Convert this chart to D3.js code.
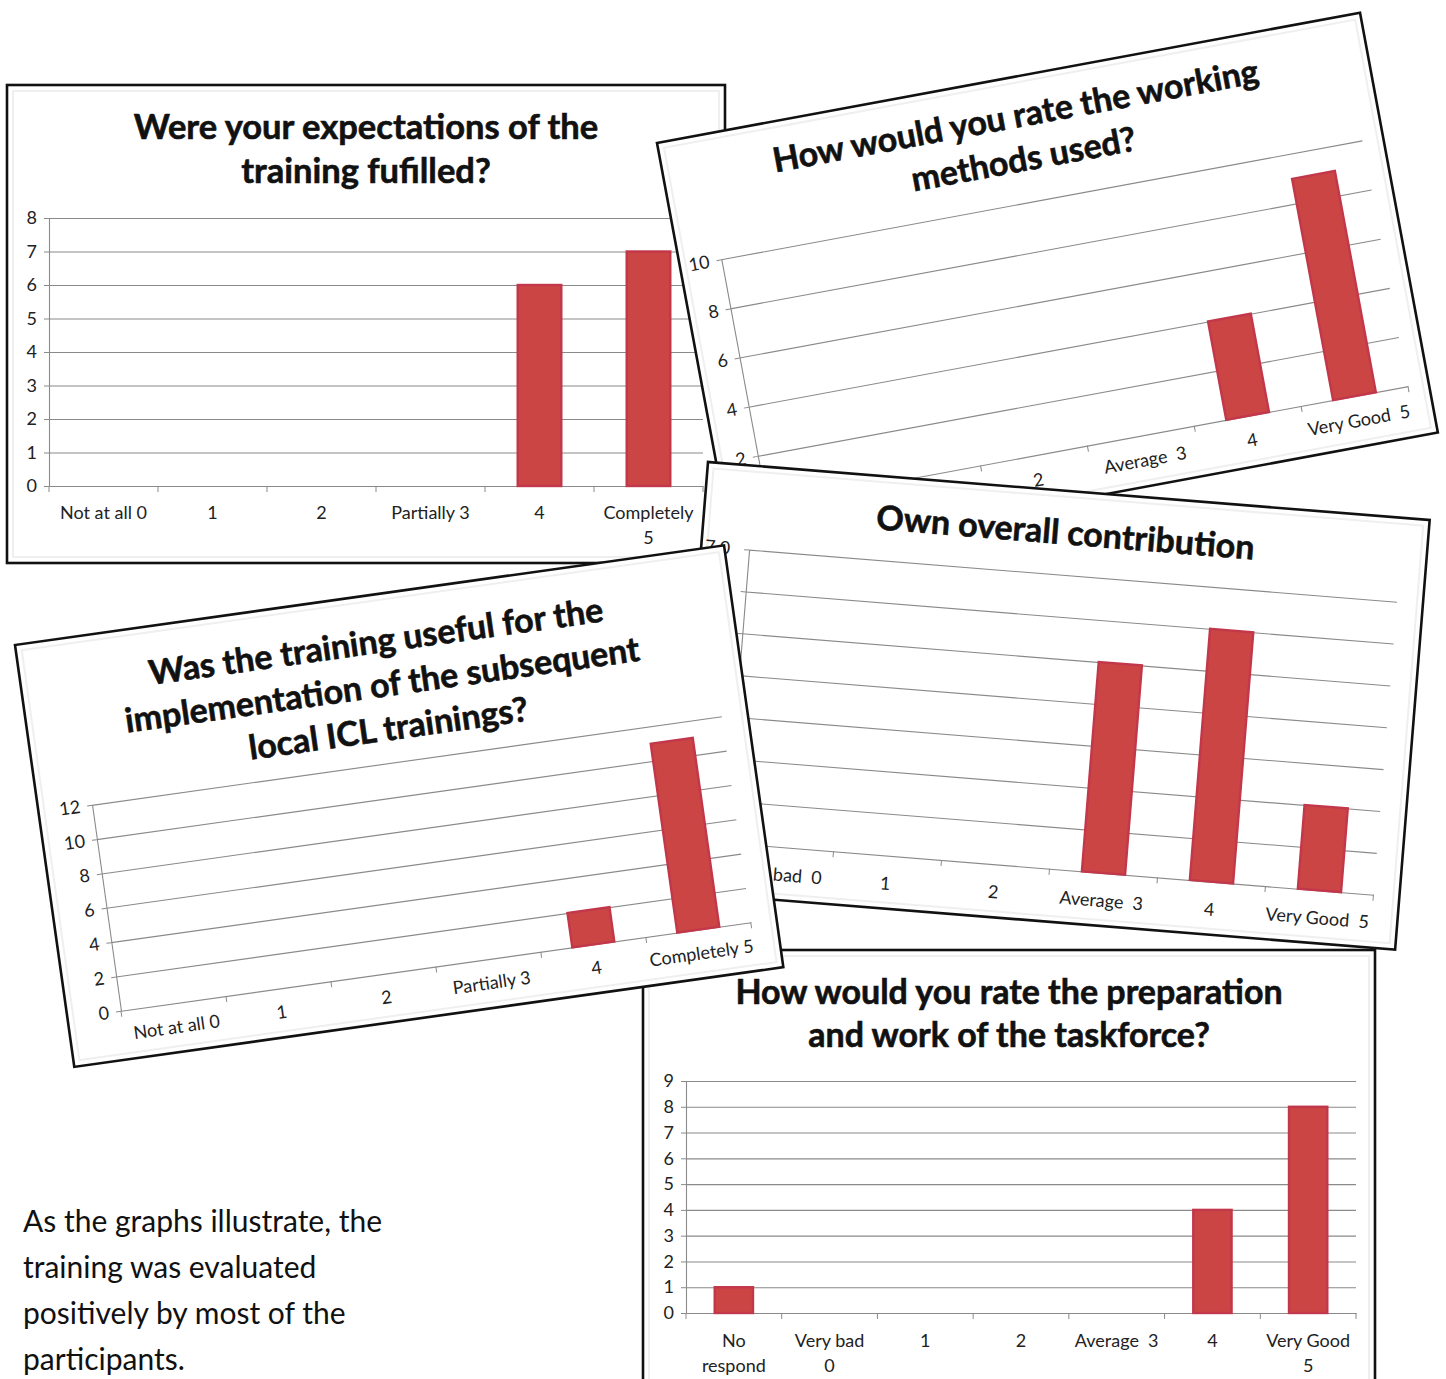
<!DOCTYPE html>
<html>
<head>
<meta charset="utf-8">
<script src="https://cdn.jsdelivr.net/npm/d3@7"></script>
<style>
  body { margin: 0; background: #fff; }
  svg { display: block; }
</style>
</head>
<body>
<svg id="page" width="1446" height="1379"></svg>
<script>
// ---- Survey results: number of participants giving each rating ----
const expectTitle = ["Were your expectations of the", "training fufilled?"];
const expectCategories = ["Not at all 0", "1", "2", "Partially 3", "4", "Completely\n5"];
const expectCounts = [0, 0, 0, 0, 6, 7];
const expectTicks = [0, 1, 2, 3, 4, 5, 6, 7, 8];

const methodsTitle = ["How would you rate the working", "methods used?"];
const methodsCategories = ["Very bad 0", "1", "2", "Average  3", "4", "Very Good  5"];
const methodsCounts = [0, 0, 0, 0, 4, 9];
const methodsTicks = [0, 2, 4, 6, 8, 10];

const contribTitle = ["Own overall contribution"];
const contribCategories = ["Very bad  0", "1", "2", "Average  3", "4", "Very Good  5"];
const contribCounts = [0, 0, 0, 5, 6, 2];
const contribTicks = [0, 1, 2, 3, 4, 5, 6, 7];

const usefulTitle = ["Was the training useful for the", "implementation of the subsequent", "local ICL trainings?"];
const usefulCategories = ["Not at all 0", "1", "2", "Partially 3", "4", "Completely 5"];
const usefulCounts = [0, 0, 0, 0, 2, 11];
const usefulTicks = [0, 2, 4, 6, 8, 10, 12];

const taskTitle = ["How would you rate the preparation", "and work of the taskforce?"];
const taskCategories = ["No\nrespond", "Very bad\n0", "1", "2", "Average  3", "4", "Very Good\n5"];
const taskCounts = [1, 0, 0, 0, 0, 4, 8];
const taskTicks = [0, 1, 2, 3, 4, 5, 6, 7, 8, 9];

const summaryLines = ["As the graphs illustrate, the", "training was evaluated", "positively by most of the", "participants."];

// ---- shared styling ----
const FONT = "Lato, 'Open Sans', 'DejaVu Sans', sans-serif";
const GRID = "#8a8a8a";
const BAR_FILL = "#cb4545";
const BAR_EDGE = "#c2374a";

const svg = d3.select("#page");

// One chart card: framed white sheet, title, value gridlines, axes and bars,
// placed and tilted as a whole.
function drawPanel(spec, lay) {
  const g = svg.append("g")
    .attr("transform", `translate(${lay.x},${lay.y}) rotate(${lay.angle})`);

  g.append("rect")
    .attr("width", lay.w).attr("height", lay.h)
    .attr("fill", "#fff").attr("stroke", "#111").attr("stroke-width", 2.6);
  g.append("rect")
    .attr("x", 6).attr("y", 6).attr("width", lay.w - 12).attr("height", lay.h - 12)
    .attr("fill", "none").attr("stroke", "#efefef").attr("stroke-width", 2);

  g.append("g").selectAll("text").data(spec.title).join("text")
    .attr("x", lay.w / 2 + (lay.titleDx || 0))
    .attr("y", (d, i) => lay.titleY[i])
    .attr("text-anchor", "middle").attr("dominant-baseline", "central")
    .attr("font-family", FONT).attr("font-weight", 700)
    .attr("font-size", lay.titleSize).attr("fill", "#111")
    .attr("stroke", "#111").attr("stroke-width", 0.6)
    .text(d => d);

  const x = d3.scaleBand()
    .domain(spec.categories)
    .range([lay.left, lay.right])
    .paddingInner(0.6).paddingOuter(0.3);
  const y = d3.scaleLinear()
    .domain([0, d3.max(spec.ticks)])
    .range([lay.bottom, lay.top]);

  // horizontal gridlines
  g.append("g").attr("transform", `translate(${lay.left},0)`)
    .call(d3.axisRight(y).tickValues(spec.ticks.slice(1))
      .tickSize(lay.right - lay.left).tickFormat(""))
    .call(a => a.select(".domain").remove())
    .call(a => a.selectAll("line").attr("stroke", GRID).attr("stroke-width", 1.1));

  // value axis
  g.append("g").attr("transform", `translate(${lay.left},0)`)
    .call(d3.axisLeft(y).tickValues(spec.ticks).tickSize(5).tickSizeOuter(0)
      .tickPadding(lay.tickPad || 7))
    .call(a => {
      a.select(".domain").attr("stroke", GRID).attr("stroke-width", 1.1);
      a.selectAll("line").attr("stroke", GRID);
      a.selectAll("text").attr("font-family", FONT).attr("font-size", lay.labelSize).attr("fill", "#222");
    });

  // category axis with separators between categories
  const xg = g.append("g").attr("transform", `translate(0,${lay.bottom})`)
    .call(d3.axisBottom(x).tickSize(0).tickSizeOuter(0).tickFormat(""));
  xg.select(".domain").attr("stroke", GRID).attr("stroke-width", 1.1);
  xg.selectAll("line.sep").data(d3.range(spec.categories.length + 1)).join("line")
    .attr("class", "sep")
    .attr("x1", i => lay.left + i * x.step()).attr("x2", i => lay.left + i * x.step())
    .attr("y1", 0).attr("y2", 6)
    .attr("stroke", GRID);

  const labels = g.append("g").selectAll("text").data(spec.categories).join("text")
    .attr("x", d => x(d) + x.bandwidth() / 2)
    .attr("y", lay.labelY)
    .attr("text-anchor", "middle").attr("dominant-baseline", "central")
    .attr("font-family", FONT).attr("font-size", lay.labelSize).attr("fill", "#222")
    .style("white-space", "pre");
  labels.selectAll("tspan").data(d => d.split("\n").map(t => ({ t, cx: x(d) + x.bandwidth() / 2 })))
    .join("tspan")
    .attr("x", d => d.cx)
    .attr("dy", (d, i) => (i ? lay.lineGap : 0))
    .text(d => d.t);

  // bars
  const rows = spec.categories.map((c, i) => ({ c, v: spec.counts[i] })).filter(d => d.v > 0);
  g.append("g").selectAll("rect").data(rows).join("rect")
    .attr("x", d => x(d.c))
    .attr("y", d => y(d.v))
    .attr("width", x.bandwidth())
    .attr("height", d => y(0) - y(d.v))
    .attr("fill", BAR_FILL)
    .attr("stroke", BAR_EDGE).attr("stroke-width", 2.4);
}

// stacking order: later cards lie on top of earlier ones
drawPanel(
  { title: expectTitle, categories: expectCategories, counts: expectCounts, ticks: expectTicks },
  { x: 7, y: 85, angle: 0, w: 718, h: 478, left: 42, right: 696, top: 133, bottom: 401,
    titleY: [40, 84], titleSize: 34.5, labelY: 427, labelSize: 18, lineGap: 25 }
);
drawPanel(
  { title: methodsTitle, categories: methodsCategories, counts: methodsCounts, ticks: methodsTicks },
  { x: 657, y: 143, angle: -10.5, w: 715, h: 427, left: 42, right: 694, top: 126, bottom: 376,
    titleY: [37, 81], titleSize: 34, labelY: 400, labelSize: 18, lineGap: 25 }
);
drawPanel(
  { title: taskTitle, categories: taskCategories, counts: taskCounts, ticks: taskTicks },
  { x: 643, y: 950, angle: 0, w: 732, h: 470, left: 43, right: 713, top: 131, bottom: 363,
    titleY: [40, 83], titleSize: 34, labelY: 390, labelSize: 18, lineGap: 25 }
);
drawPanel(
  { title: contribTitle, categories: contribCategories, counts: contribCounts, ticks: contribTicks },
  { x: 708, y: 462, angle: 4.6, w: 724, h: 431, left: 48, right: 698, top: 84, bottom: 378,
    titleY: [40], titleSize: 34, labelY: 405, labelSize: 18, lineGap: 25, tickPad: 14 }
);
drawPanel(
  { title: usefulTitle, categories: usefulCategories, counts: usefulCounts, ticks: usefulTicks },
  { x: 15, y: 645, angle: -8, w: 716, h: 426, left: 54, right: 690, top: 169, bottom: 377,
    titleY: [45, 89, 133], titleSize: 34, labelY: 400, labelSize: 18, lineGap: 25 }
);

// closing remark beside the charts
svg.append("g").selectAll("text").data(summaryLines).join("text")
  .attr("x", 23)
  .attr("y", (d, i) => 1232 + i * 46)
  .attr("font-family", FONT).attr("font-size", 30).attr("fill", "#111")
  .text(d => d);
</script>
</body>
</html>
